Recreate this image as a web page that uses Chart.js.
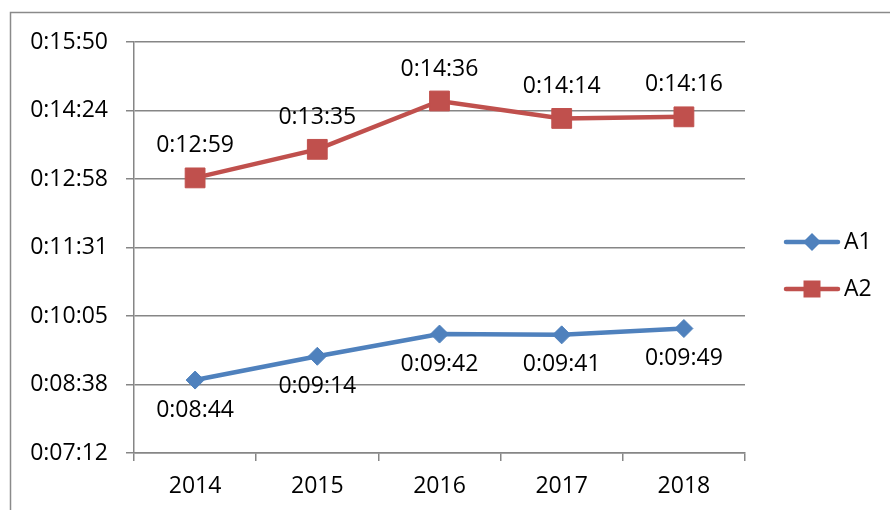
<!DOCTYPE html>
<html><head><meta charset="utf-8">
<script src="https://cdn.jsdelivr.net/npm/chart.js@4"></script>
<style>html,body{margin:0;padding:0;background:#fff}#wrap{width:890px;height:510px;position:relative}</style>
</head><body><div id="wrap"><canvas id="c" width="890" height="510"></canvas></div>
<script>
const categories = ['2014','2015','2016','2017','2018'];
const seriesNames = ['A1','A2'];
const a1Times = ['0:08:44','0:09:14','0:09:42','0:09:41','0:09:49'];
const a2Times = ['0:12:59','0:13:35','0:14:36','0:14:14','0:14:16'];
const yTickValues = [432, 518.4, 604.8, 691.2, 777.6, 864, 950.4];
const yTickLabels = ['0:07:12','0:08:38','0:10:05','0:11:31','0:12:58','0:14:24','0:15:50'];

function toSec(t){const p=t.split(':').map(Number);return p[0]*3600+p[1]*60+p[2];}
const a1 = a1Times.map(toSec);
const a2 = a2Times.map(toSec);

const FONT = '"Open Sans", "Liberation Sans", sans-serif';
const FSIZE = 23;
const GRID = '#868686';
const BLUE = '#4F81BD';
const RED = '#C0504D';

const bgPlugin = {
  id: 'bg',
  beforeDraw(chart){
    const ctx = chart.ctx;
    ctx.save();
    ctx.fillStyle = '#fff';
    ctx.fillRect(0,0,chart.width,chart.height);
    ctx.strokeStyle = '#8a8a8a';
    ctx.lineWidth = 1.5;
    ctx.beginPath();
    ctx.moveTo(10.5, chart.height);
    ctx.lineTo(10.5, 12.5);
    ctx.lineTo(chart.width, 12.5);
    ctx.stroke();
    ctx.restore();
  }
};

const labelPlugin = {
  id: 'dlabels',
  afterDatasetsDraw(chart){
    const ctx = chart.ctx;
    ctx.save();
    ctx.font = FSIZE + 'px ' + FONT;
    ctx.fillStyle = '#000';
    ctx.textAlign = 'center';
    ctx.textBaseline = 'middle';
    const texts = [a1Times, a2Times];
    const offs = [30, -32];
    chart.data.datasets.forEach((ds, di) => {
      const meta = chart.getDatasetMeta(di);
      meta.data.forEach((pt, i) => {
        ctx.fillText(texts[di][i], pt.x, pt.y + offs[di]);
      });
    });
    ctx.restore();
  }
};

function drawMarker(ctx, style, x, y, r, color){
  ctx.fillStyle = color;
  ctx.beginPath();
  if (style === 'diamond'){
    ctx.moveTo(x, y - r); ctx.lineTo(x + r, y); ctx.lineTo(x, y + r); ctx.lineTo(x - r, y); ctx.closePath();
  } else {
    ctx.rect(x - r, y - r, 2*r, 2*r);
  }
  ctx.fill();
}

const legendPlugin = {
  id: 'customLegend',
  afterDraw(chart){
    const ctx = chart.ctx;
    ctx.save();
    const items = [
      {name: seriesNames[0], color: BLUE, style: 'diamond', r: 9, y: 242},
      {name: seriesNames[1], color: RED, style: 'square', r: 8.5, y: 289}
    ];
    items.forEach(it => {
      ctx.strokeStyle = it.color;
      ctx.lineWidth = 4.5;
      ctx.lineCap = 'round';
      ctx.beginPath();
      ctx.moveTo(786, it.y); ctx.lineTo(838, it.y);
      ctx.stroke();
      drawMarker(ctx, it.style, 812, it.y, it.r, it.color);
      ctx.fillStyle = '#000';
      ctx.font = FSIZE + 'px ' + FONT;
      ctx.textAlign = 'left';
      ctx.textBaseline = 'middle';
      ctx.fillText(it.name, 844, it.y);
    });
    ctx.restore();
  }
};

new Chart(document.getElementById('c'), {
  type: 'line',
  data: {
    labels: categories,
    datasets: [
      {label: seriesNames[0], data: a1, borderColor: BLUE, backgroundColor: BLUE,
       borderWidth: 4.5, pointStyle: 'rectRot', pointRadius: 9, pointHoverRadius: 9,
       pointBorderWidth: 1, pointBorderColor: BLUE, pointBackgroundColor: BLUE, tension: 0},
      {label: seriesNames[1], data: a2, borderColor: RED, backgroundColor: RED,
       borderWidth: 4.5, pointStyle: 'rect', pointRadius: 14, pointHoverRadius: 14,
       pointBorderWidth: 1, pointBorderColor: RED, pointBackgroundColor: RED, tension: 0}
    ]
  },
  options: {
    responsive: false,
    animation: false,
    events: [],
    layout: {padding: {top: 42, right: 145, left: 0, bottom: 0}},
    plugins: {legend: {display: false}, tooltip: {enabled: false}, title: {display: false}},
    scales: {
      x: {
        type: 'category',
        offset: true,
        grid: {offset: true, drawOnChartArea: false, drawTicks: true, tickLength: 8, color: GRID, lineWidth: 1.5},
        border: {display: true, color: GRID, width: 1.5},
        ticks: {color: '#000', font: {family: FONT, size: FSIZE}, padding: 12, maxRotation: 0, autoSkip: false},
        afterFit(s){ s.height = 57; }
      },
      y: {
        min: yTickValues[0],
        max: yTickValues[yTickValues.length - 1],
        afterBuildTicks(s){ s.ticks = yTickValues.map(v => ({value: v})); },
        grid: {color: GRID, lineWidth: 1.5, tickLength: 8, drawTicks: true},
        border: {display: true, color: GRID, width: 1.5},
        ticks: {color: '#000', font: {family: FONT, size: FSIZE}, padding: 18,
          callback(v, i){ return yTickLabels[i]; }},
        afterFit(s){ s.width = 134; }
      }
    }
  },
  plugins: [bgPlugin, labelPlugin, legendPlugin]
});
</script>
</body></html>
